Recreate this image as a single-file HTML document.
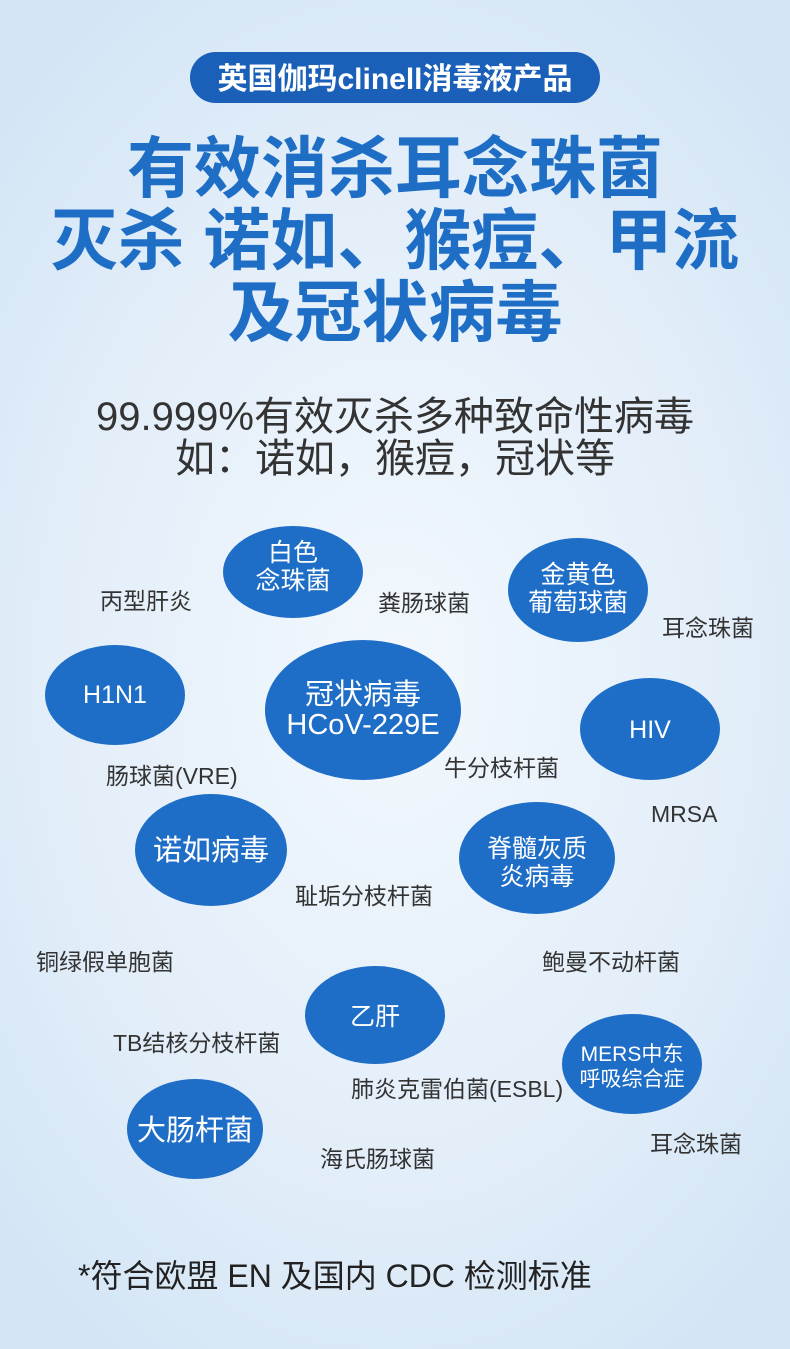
<!DOCTYPE html>
<html><head><meta charset="utf-8"><style>
html,body{margin:0;padding:0}
body{width:790px;height:1349px;overflow:hidden;background:radial-gradient(ellipse 70% 60% at 50% 50%,#f2f8fd 0%,#e3eef9 60%,#d3e5f5 100%);font-family:"Liberation Sans","Noto Sans CJK SC",sans-serif}
svg{display:block}
</style></head><body>
<svg width="790" height="1349" viewBox="0 0 790 1349" xmlns="http://www.w3.org/2000/svg" font-family="Liberation Sans, Noto Sans CJK SC, sans-serif">
<rect x="190" y="52" width="410" height="51" rx="25.5" fill="#1a5fb8"/>
<text x="395" y="89" text-anchor="middle" fill="#fff" font-size="30" font-weight="bold">英国伽玛clinell消毒液产品</text>
<g fill="#1f6ec6" font-size="67" font-weight="bold" text-anchor="middle">
<text x="395" y="192">有效消杀耳念珠菌</text>
<text x="395" y="264">灭杀 诺如、猴痘、甲流</text>
<text x="395" y="336">及冠状病毒</text>
</g>
<g fill="#333" font-size="40" text-anchor="middle">
<text x="395" y="430">99.999%有效灭杀多种致命性病毒</text>
<text x="395" y="472">如：诺如，猴痘，冠状等</text>
</g>
<g fill="#1e6ec8">
<ellipse cx="293" cy="572" rx="70" ry="46"/>
<ellipse cx="578" cy="590" rx="70" ry="52"/>
<ellipse cx="115" cy="695" rx="70" ry="50"/>
<ellipse cx="363" cy="710" rx="98" ry="70"/>
<ellipse cx="650" cy="729" rx="70" ry="51"/>
<ellipse cx="211" cy="850" rx="76" ry="56"/>
<ellipse cx="537" cy="858" rx="78" ry="56"/>
<ellipse cx="375" cy="1015" rx="70" ry="49"/>
<ellipse cx="632" cy="1064" rx="70" ry="50"/>
<ellipse cx="195" cy="1129" rx="68" ry="50"/>
</g>
<g fill="#fff" text-anchor="middle" font-size="25">
<text x="293" y="561">白色</text><text x="293" y="589">念珠菌</text>
<text x="578" y="583">金黄色</text><text x="578" y="611">葡萄球菌</text>
<text x="115" y="703">H1N1</text>
<text x="363" y="704" font-size="29">冠状病毒</text><text x="363" y="734" font-size="29">HCoV-229E</text>
<text x="650" y="738">HIV</text>
<text x="211" y="860" font-size="29">诺如病毒</text>
<text x="537" y="857">脊髓灰质</text><text x="537" y="885">炎病毒</text>
<text x="375" y="1025">乙肝</text>
<text x="632" y="1061" font-size="21">MERS中东</text><text x="632" y="1086" font-size="21">呼吸综合症</text>
<text x="195" y="1140" font-size="29">大肠杆菌</text>
</g>
<g fill="#333" font-size="23">
<text x="100" y="609">丙型肝炎</text>
<text x="378" y="611">粪肠球菌</text>
<text x="662" y="636">耳念珠菌</text>
<text x="106" y="784">肠球菌(VRE)</text>
<text x="444" y="776">牛分枝杆菌</text>
<text x="651" y="822">MRSA</text>
<text x="295" y="904">耻垢分枝杆菌</text>
<text x="36" y="970">铜绿假单胞菌</text>
<text x="542" y="970">鲍曼不动杆菌</text>
<text x="113" y="1051">TB结核分枝杆菌</text>
<text x="351" y="1097">肺炎克雷伯菌(ESBL)</text>
<text x="650" y="1152">耳念珠菌</text>
<text x="320" y="1167">海氏肠球菌</text>
</g>
<text x="78" y="1287" fill="#222" font-size="32">*符合欧盟 EN 及国内 CDC 检测标准</text>
</svg>
</body></html>
